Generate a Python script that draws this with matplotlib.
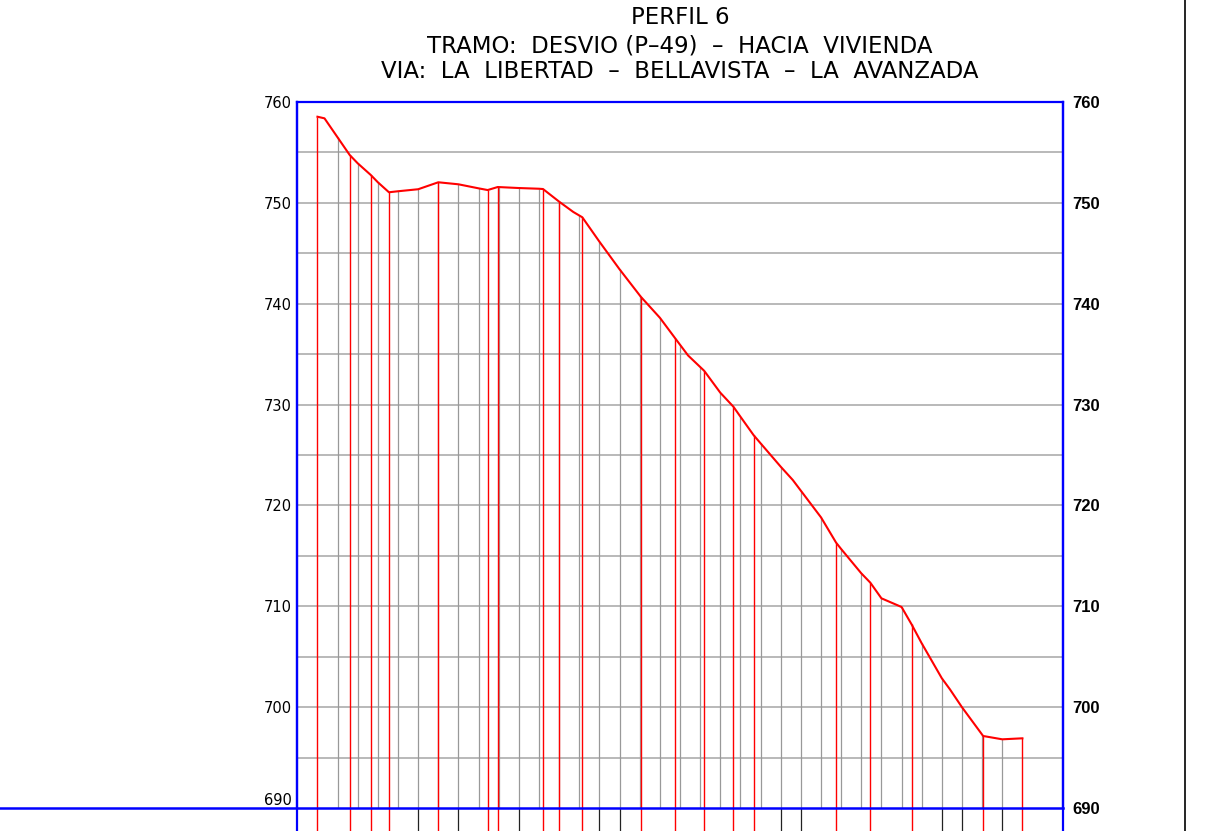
"""Longitudinal ground profile, PERFIL 6 (CAD-style sheet)."""

import matplotlib

matplotlib.use("Agg")

import matplotlib.pyplot as plt
from matplotlib.lines import Line2D
import numpy as np


TITLE_LINES = [
    "PERFIL 6",
    "TRAMO:  DESVIO (P–49)  –  HACIA  VIVIENDA",
    "VIA:  LA  LIBERTAD  –  BELLAVISTA  –  LA  AVANZADA",
]

# ground profile vertices: chainage (m) and elevation (m)
chainage = [0, 7, 32, 40, 53, 60, 71, 80, 100, 120, 140, 160, 169, 179, 200,
            220, 224, 240, 254, 263, 280, 300, 321, 340, 355, 368, 384, 400,
            413, 420, 433, 440, 460, 472, 480, 500, 515, 520, 540, 549, 560,
            580, 590, 600, 620, 628, 640, 661, 680, 700]
elevation = [758.54, 758.38, 754.75, 753.92, 752.76, 752.04, 751.05, 751.15,
             751.35, 752.04, 751.84, 751.44, 751.27, 751.57, 751.47, 751.40,
             751.37, 750.12, 749.10, 748.57, 746.15, 743.41, 740.70, 738.61,
             736.60, 734.87, 733.35, 731.18, 729.79, 728.80, 726.98, 726.16,
             723.84, 722.52, 721.46, 718.82, 716.31, 715.68, 713.27, 712.34,
             710.79, 709.93, 708.20, 706.33, 702.86, 701.77, 699.99, 697.14,
             696.81, 696.91]

# ordinates drawn in red (surveyed points)
red_points = [0, 32, 53, 71, 120, 169, 179, 224, 240, 263, 321, 355, 384,
              413, 433, 515, 549, 590, 661, 700]

# regular 20 m stations (grey ordinates)
stations = [20, 40, 60, 80, 100, 120, 140, 160, 180, 200, 220, 240, 260, 280,
            300, 320, 340, 360, 380, 400, 420, 440, 460, 480, 500, 520, 540,
            560, 580, 600, 620, 640, 660, 680]
# stations whose ordinate continues into the data table below
long_stations = [100, 140, 200, 280, 300, 460, 480, 620, 640, 680]

y_ticks = [690, 700, 710, 720, 730, 740, 750, 760]
grid_levels = [695, 700, 705, 710, 715, 720, 725, 730, 735, 740, 745, 750, 755]

BLUE = "#0000ff"
RED = "#ff0000"

fig = plt.figure(figsize=(12.09, 8.31), dpi=100)
ax = fig.add_axes([297.3 / 1209, 23 / 831, 765.4 / 1209, 706 / 831])
ax.set_xlim(-20, 740)
ax.set_ylim(690, 760)

# horizontal grid
for lvl in grid_levels:
    ax.axhline(lvl, color="#a6a6a6", lw=1.1, zorder=1)

# grey station ordinates
tops = np.interp(stations, chainage, elevation)
ax.vlines(stations, 690, tops, color="#999999", lw=0.9, zorder=2)
ax.vlines(long_stations, 686, 690, color="#222222", lw=0.9, zorder=2,
          clip_on=False)

# red ordinates of surveyed points
red_tops = np.interp(red_points, chainage, elevation)
ax.vlines(red_points, 686, red_tops, color=RED, lw=1.0, zorder=3, clip_on=False)

# ground line
ax.plot(chainage, elevation, color=RED, lw=1.5, zorder=4)

# blue frame
for side in ["top", "left", "right"]:
    ax.spines[side].set_color(BLUE)
    ax.spines[side].set_linewidth(1.6)
ax.spines["bottom"].set_visible(False)
ax.axhline(690, xmin=-0.4, xmax=1, color=BLUE, lw=1.8, clip_on=False, zorder=5)
ax.axvline(-20, ymin=-0.05, ymax=1, color=BLUE, lw=1.6, clip_on=False, zorder=5)
ax.axvline(740, ymin=-0.05, ymax=1, color=BLUE, lw=1.6, clip_on=False, zorder=5)

ax.set_xticks([])
ax.set_yticks(y_ticks)
ax.set_yticklabels([str(v) for v in y_ticks], fontsize=10.5, family="DejaVu Sans")
ax.tick_params(axis="y", length=0, pad=4)
ax.get_yticklabels()[0].set_verticalalignment("bottom")

ax_r = ax.twinx()
ax_r.set_ylim(690, 760)
ax_r.set_yticks(y_ticks)
ax_r.set_yticklabels([str(v) for v in y_ticks], fontsize=12,
                     family="Liberation Sans", fontweight="bold")
ax_r.tick_params(axis="y", length=0, pad=7)
for spine in ax_r.spines.values():
    spine.set_visible(False)

# sheet border on the right
fig.add_artist(Line2D([1185 / 1209, 1185 / 1209], [0, 1],
                      transform=fig.transFigure, color="black", lw=1.2))

title_y = [18, 46, 72]
for text, ypix in zip(TITLE_LINES, title_y):
    fig.text(680 / 1209, 1 - ypix / 831, text, ha="center", va="center",
             fontsize=16.5, family="DejaVu Sans", color="black")

fig.savefig("out.png", dpi=100)
plt.close(fig)
